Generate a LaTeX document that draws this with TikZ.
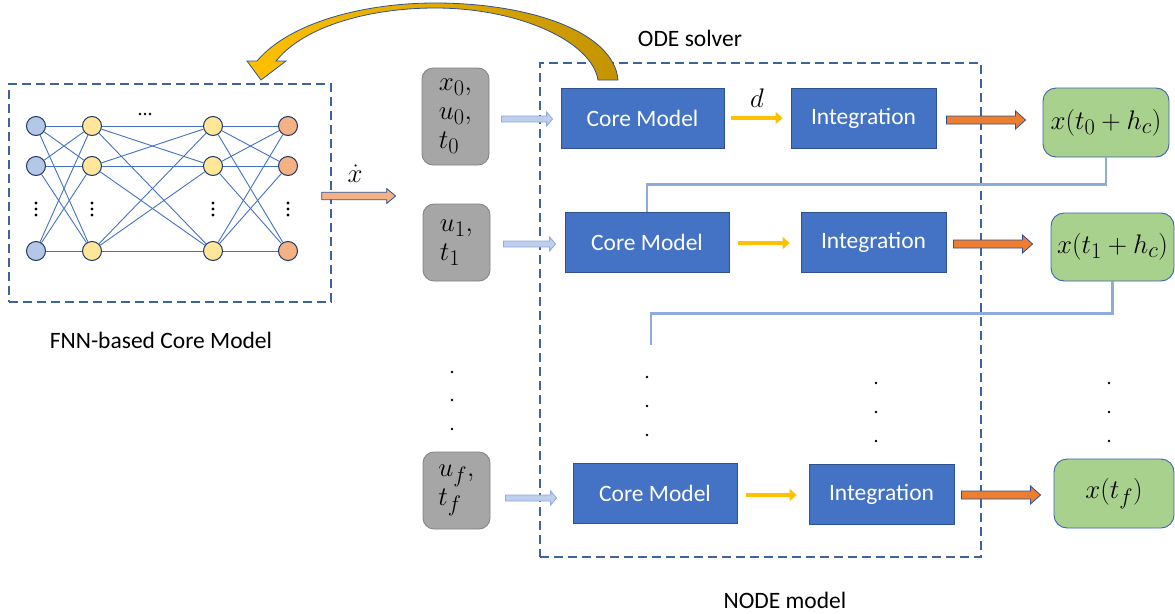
\documentclass[tikz,border=0pt]{standalone}
\usepackage{fix-cm}
\usepackage{graphicx}
\usepackage{fontspec}
\setmainfont{Carlito}
\usetikzlibrary{calc,arrows.meta}
\definecolor{dashblue}{RGB}{63,98,160}
\definecolor{cmblue}{RGB}{68,114,196}
\definecolor{cmline}{RGB}{47,82,143}
\definecolor{grayfill}{RGB}{166,166,166}
\definecolor{grayline}{RGB}{128,128,128}
\definecolor{greenfill}{RGB}{169,209,142}
\definecolor{greenline}{RGB}{59,100,173}
\definecolor{orangef}{RGB}{237,125,49}
\definecolor{lightin}{RGB}{190,207,236}
\definecolor{lightline}{RGB}{143,170,220}
\definecolor{goldc}{RGB}{255,192,0}
\definecolor{darkgold}{RGB}{196,148,0}
\definecolor{navy}{RGB}{31,56,100}
\definecolor{nblue}{RGB}{180,199,231}
\definecolor{nyellow}{RGB}{255,230,153}
\definecolor{norange}{RGB}{244,177,131}
\definecolor{connblue}{RGB}{68,114,196}
\newcommand{\blockarrow}[6]{%
  \path #2 coordinate (tmpS);
  \path #3 coordinate (tmpE);
  \draw[#1] let \p1=(tmpS), \p2=(tmpE) in
    (\x1,\y1+#4) -- (\x2-#6,\y1+#4) -- (\x2-#6,\y1+#5) -- (\x2,\y1)
    -- (\x2-#6,\y1-#5) -- (\x2-#6,\y1-#4) -- (\x1,\y1-#4) -- cycle;}
\newcommand{\bm}[1]{\scalebox{1.08}{$#1$}}
\begin{document}
\begin{tikzpicture}[x=1pt,y=-1pt,
  boxdash/.style={draw=dashblue, line width=1.3pt, dash pattern=on 9pt off 5pt, inner sep=0},
  cmbox/.style={draw=cmline, fill=cmblue, line width=0.8pt, minimum height=60pt, inner sep=0, text=white, font=\fontsize{23.5}{28}\selectfont},
  inbox/.style={draw=grayline, fill=grayfill, rounded corners=11pt, minimum width=67pt, line width=0.8pt, inner sep=0, align=left, font=\fontsize{24.88}{29}\selectfont},
  outbox/.style={draw=greenline, fill=greenfill, rounded corners=13pt, line width=0.9pt, minimum height=69pt, inner sep=0, font=\fontsize{24.88}{30}\selectfont},
  neuron/.style={circle, draw=navy, line width=1pt, minimum size=19pt, inner sep=0},
  conn/.style={draw=connblue, line width=0.9pt},
  fb/.style={draw=lightline, line width=2.8pt},
  yarrow/.style={draw=goldc, line width=4pt, -{Triangle[length=7pt,width=12pt]}},
  inarrow/.style={draw=lightline, fill=lightin, line width=0.8pt},
  orarrow/.style={draw=cmline, fill=orangef, line width=0.8pt},
  xdarrow/.style={draw=cmline, fill=norange, line width=0.8pt},
  lab/.style={font=\fontsize{23.5}{28}\selectfont},
  mlab/.style={font=\fontsize{24.88}{30}\selectfont, inner sep=1pt}]
\useasboundingbox (0,0) rectangle (1175,613);

% ---------- FNN box ----------
\node[boxdash, minimum width=322pt, minimum height=218pt] (fnn) at (170,193) {};
\foreach \r/\yy in {1/126,2/166,3/251}{
  \node[neuron, fill=nblue]   (n1\r) at (36,\yy) {};
  \node[neuron, fill=nyellow] (n2\r) at (92,\yy) {};
  \node[neuron, fill=nyellow] (n3\r) at (213,\yy) {};
  \node[neuron, fill=norange] (n4\r) at (288,\yy) {};
}
\foreach \a/\b in {1/2,2/3,3/4}{
  \foreach \i in {1,2,3}{
    \foreach \j in {1,2,3}{
      \draw[conn] (n\a\i) -- (n\b\j);
    }
  }
}
\foreach \xx in {36,92,213,288}{
  \foreach \yy in {203,209,215}{
    \fill (\xx,\yy) circle (1.7pt);
  }
}
\foreach \xx in {140,145,150}{
  \fill (\xx,114) circle (1.3pt);
}
\node[lab] (fnnlab) at (161,340) {FNN-based Core Model};

% x dot arrow
\blockarrow{xdarrow}{($(fnn.east)+(-10,3)$)}{($(fnn.east)+(64,3)$)}{3.7pt}{7.5pt}{9pt}
\node[mlab] (xdot) at (355,174) {\bm{\dot{x}}};

% ---------- ODE solver box ----------
\node[boxdash, minimum width=441pt, minimum height=494pt] (ode) at (760.5,310) {};
\node[lab] (odelab) at (690,38) {ODE solver};
\node[lab] (nodelab) at (785,600) {NODE model};

% inputs
\node[inbox, minimum height=97pt] (in1) at (455.5,116.5) {\bm{x_0,}\\\bm{u_0,}\\\bm{t_0}};
\node[inbox, minimum height=77pt] (in2) at (456.5,242.5) {\bm{u_1,}\\\bm{t_1}};
\node[inbox, minimum height=77pt] (in3) at (456.5,490.5) {\bm{u_f,}\\\bm{t_f}};

% core models and integration
\node[cmbox, minimum width=163pt] (cm1) at (642.5,118) {Core Model};
\node[cmbox, minimum width=164pt] (cm2) at (647,242) {Core Model};
\node[cmbox, minimum width=164pt] (cm3) at (655,493) {Core Model};
\node[cmbox, minimum width=145pt] (int1) at (863.5,118) {Integration};
\node[cmbox, minimum width=145pt] (int2) at (873.5,242) {Integration};
\node[cmbox, minimum width=145pt] (int3) at (881.5,494) {Integration};

% outputs
\node[outbox, minimum width=126pt] (g1) at (1106,122.5) {\bm{x(t_0+h_c)}};
\node[outbox, minimum width=123pt, minimum height=68pt] (g2) at (1112.5,247) {\bm{x(t_1+h_c)}};
\node[outbox, minimum width=120pt] (g3) at (1114,493.5) {\bm{x(t_f)}};

% input arrows
\blockarrow{inarrow}{($(in1.east |- cm1.west)+(12,1)$)}{($(cm1.west)+(-8,1)$)}{3pt}{7pt}{6pt}
\blockarrow{inarrow}{($(in2.east |- cm2.west)+(13,2)$)}{($(cm2.west)+(-9,2)$)}{3pt}{7pt}{6pt}
\blockarrow{inarrow}{($(in3.east |- cm3.west)+(15,5)$)}{($(cm3.west)+(-16,5)$)}{3pt}{7pt}{6pt}

% yellow arrows
\draw[yarrow] ($(cm1.east)+(7,0)$) -- ($(int1.west)+(-8,0)$);
\draw[yarrow] ($(cm2.east)+(9,1)$) -- ($(int2.west)+(-11,1)$);
\draw[yarrow] ($(cm3.east)+(9,2)$) -- ($(int3.west)+(-12,1)$);
\node[mlab] (dlab) at (757,98) {\bm{d}};

% orange arrows
\blockarrow{orarrow}{($(int1.east)+(10,2)$)}{($(g1.west |- int1.east)+(-17,2)$)}{4pt}{9pt}{10pt}
\blockarrow{orarrow}{($(int2.east)+(7,2)$)}{($(g2.west |- int2.east)+(-18,2)$)}{4pt}{9pt}{10pt}
\blockarrow{orarrow}{($(int3.east)+(7,1)$)}{($(g3.west |- int3.east)+(-13,1)$)}{4pt}{9pt}{10pt}

% feedback lines
\coordinate (fb2end) at (651,345);
\draw[fb] (g1.south) -- ++(0,27) -| (cm2.north);
\draw[fb] (g2.south) -- ++(0,32) -| (fb2end);

% dots
\foreach \yy in {372,400,429}{\fill (452,\yy) circle (1.3pt);}
\foreach \yy in {377,406,435}{\fill (647,\yy) circle (1.3pt);}
\foreach \yy in {383,412,441}{\fill (876,\yy) circle (1.3pt);}
\foreach \yy in {383,412,441}{\fill (1109,\yy) circle (1.3pt);}

% curved arrow
\draw[left color=goldc, right color=darkgold, draw=cmline, line width=0.8pt]
  (257,61) .. controls (290,22) and (365,3) .. (435,3)
  .. controls (530,3) and (614,32) .. (618,80)
  -- (598,80) .. controls (592,42) and (520,8) .. (435,8)
  .. controls (372,8) and (305,25) .. (276,61)
  -- (286,61) -- (261,80) -- (247,61) -- cycle;
\end{tikzpicture}
\end{document}
